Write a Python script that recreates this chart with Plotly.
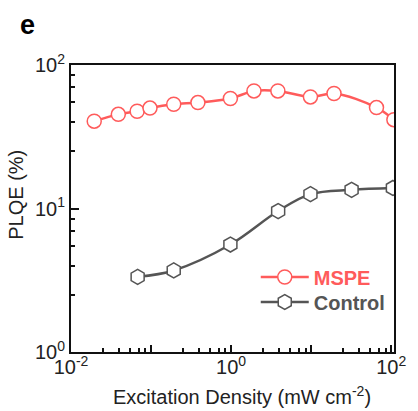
import plotly.graph_objects as go

# Data
mspe_x = [0.0195, 0.039, 0.067, 0.097, 0.192, 0.385, 0.98, 1.93, 3.84, 9.8, 19.3, 65.5, 108]
mspe_y = [40.6, 45.3, 47.6, 50.1, 53.3, 54.7, 58.4, 66.0, 66.0, 59.9, 63.3, 50.5, 41.6]
ctrl_x = [0.068, 0.192, 0.98, 3.87, 9.8, 32, 105]
ctrl_y = [3.34, 3.70, 5.61, 9.6, 12.6, 13.5, 13.9]

x_major = [0.01, 0.1, 1, 10, 100]
x_major_text = ["10<sup>-2</sup>", "", "10<sup>0</sup>", "", "10<sup>2</sup>"]
y_major = [1, 10, 100]
y_major_text = ["10<sup>0</sup>", "10<sup>1</sup>", "10<sup>2</sup>"]
minor_mult = [2.5, 4, 5.5, 7, 8.5]

RED = "#FF5B5B"
GRAY = "#555555"
FONT = "Liberation Sans, Arial, sans-serif"

x_minor = [m * d for d in [0.01, 0.1, 1, 10] for m in minor_mult]
y_minor = [m * d for d in [1, 10] for m in minor_mult]

fig = go.Figure()
fig.add_trace(go.Scatter(
    x=mspe_x, y=mspe_y, mode="lines+markers",
    name="<b><span style='color:#FF5B5B'>MSPE</span></b>",
    line=dict(color=RED, width=2.5, shape="spline"),
    marker=dict(symbol="circle", size=14, color="white", line=dict(color=RED, width=1.5)),
    legend="legend",
))
fig.add_trace(go.Scatter(
    x=ctrl_x, y=ctrl_y, mode="lines+markers",
    name="<b><span style='color:#555555'>Control</span></b>",
    line=dict(color=GRAY, width=2.5, shape="spline"),
    marker=dict(symbol="hexagon", size=15, color="white", line=dict(color=GRAY, width=1.5)),
    legend="legend2",
))

tick_font = dict(family=FONT, size=20, color="#222")
title_font = dict(family=FONT, size=20, color="#222")

fig.update_xaxes(
    type="log", range=[-2, 2.035],
    tickvals=x_major, ticktext=x_major_text,
    ticks="inside", ticklen=7, tickwidth=1.5, tickcolor="#111",
    minor=dict(tickvals=x_minor, ticks="inside", ticklen=4, tickwidth=1.5, tickcolor="#111"),
    showline=True, linecolor="#111", linewidth=2, mirror=True,
    showgrid=False, zeroline=False,
    tickfont=tick_font, ticklabelstandoff=-4,
)
fig.update_yaxes(
    type="log", range=[0, 2],
    tickvals=y_major, ticktext=y_major_text,
    ticks="inside", ticklen=8, tickwidth=1.5, tickcolor="#111",
    minor=dict(tickvals=y_minor, ticks="inside", ticklen=4, tickwidth=1.5, tickcolor="#111"),
    showline=True, linecolor="#111", linewidth=2, mirror=True,
    showgrid=False, zeroline=False,
    tickfont=tick_font,
)

leg_common = dict(xanchor="left", yanchor="middle", bgcolor="rgba(0,0,0,0)",
                  font=dict(size=20, family=FONT), itemwidth=48)

fig.update_layout(
    width=418, height=411,
    margin=dict(l=71, r=13, t=65, b=59),
    paper_bgcolor="white", plot_bgcolor="white",
    font=dict(family=FONT, color="#222"),
    showlegend=True,
    legend=dict(x=0.572, y=(352 - 277) / 287, **leg_common),
    legend2=dict(x=0.572, y=(352 - 302) / 287, **leg_common),
    annotations=[
        dict(text="<b>e</b>", xref="paper", yref="paper", x=-0.163, y=1.139,
             xanchor="left", yanchor="middle", showarrow=False,
             font=dict(size=27, color="black", family=FONT)),
        dict(text="Excitation Density (mW cm<sup>-2</sup>)", xref="paper", yref="paper",
             x=0.53, y=-0.152, xanchor="center", yanchor="middle", showarrow=False,
             font=title_font),
        dict(text="PLQE (%)", xref="paper", yref="paper", textangle=-90,
             x=-0.171, y=0.547, xanchor="center", yanchor="middle", showarrow=False,
             font=title_font),
    ],
)

fig.write_html("out.html")
